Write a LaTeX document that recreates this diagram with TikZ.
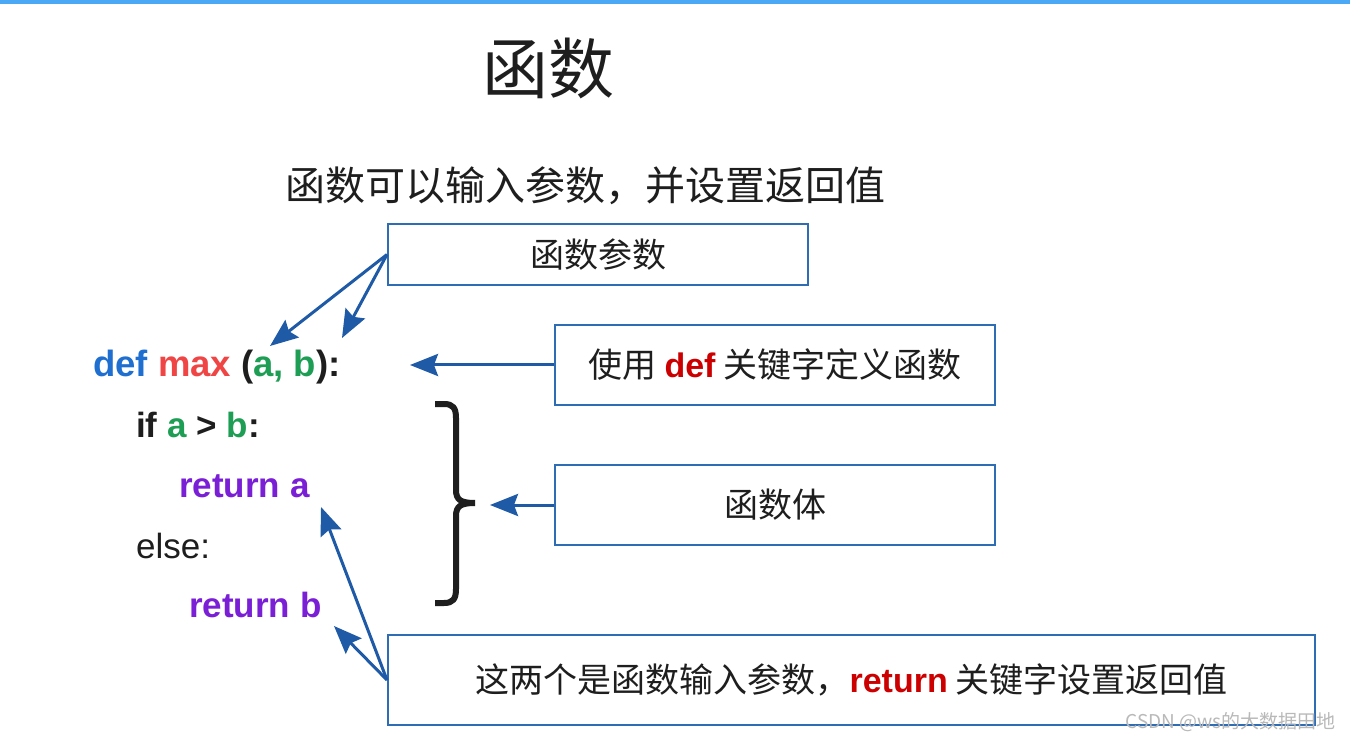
\documentclass[tikz,border=0pt]{standalone}
\usepackage{fontspec}
\setmainfont{Liberation Sans}
\newfontfamily\cjk{Noto Sans CJK SC}
\usetikzlibrary{arrows.meta}
\definecolor{topbar}{HTML}{4AA8F4}
\definecolor{boxblue}{HTML}{2E6DB4}
\definecolor{arrblue}{HTML}{1F5AA6}
\definecolor{kwblue}{HTML}{1E6FD0}
\definecolor{kwred}{HTML}{F04545}
\definecolor{kwgreen}{HTML}{1E9E55}
\definecolor{kwpurple}{HTML}{7A1FD6}
\definecolor{darkred}{HTML}{CC0000}
\definecolor{ink}{HTML}{1E1E1E}
\tikzset{
  infobox/.style={draw=boxblue, line width=2pt, inner sep=0pt, text=ink},
  codeline/.style={anchor=base west, inner sep=0pt, font=\fontsize{35}{40}\selectfont\bfseries, text=ink},
  arr/.style={draw=arrblue, line width=3pt, -{Stealth[length=28pt,width=22pt,inset=4pt]}},
}
\begin{document}
\begin{tikzpicture}[x=1pt,y=-1pt]
\useasboundingbox (0,0) rectangle (1350,743);
\fill[white] (0,0) rectangle (1350,743);
\fill[topbar] (0,0) rectangle (1350,4);

% title and subtitle
\node[inner sep=0pt, text=ink, font=\fontsize{66}{70}\selectfont\cjk] (title) at (548,68) {函数};
\node[inner sep=0pt, text=ink, font=\fontsize{40}{46}\selectfont\cjk] (subtitle) at (585,186) {函数可以输入参数，并设置返回值};

% boxes
\node[infobox, minimum width=420pt, minimum height=61pt, font=\fontsize{34}{40}\selectfont\cjk] (params) at (598,254.5) {函数参数};
\node[infobox, minimum width=440pt, minimum height=80pt, font=\fontsize{34}{40}\selectfont\cjk] (defbox) at (775,365) {使用 {\rmfamily\bfseries\color{darkred}def} 关键字定义函数};
\node[infobox, minimum width=440pt, minimum height=80pt, font=\fontsize{34}{40}\selectfont\cjk] (bodybox) at (775,505) {函数体};
\node[infobox, minimum width=927pt, minimum height=90pt, font=\fontsize{34}{40}\selectfont\cjk] (retbox) at (851.5,680) {这两个是函数输入参数，{\rmfamily\bfseries\color{darkred}return} 关键字设置返回值};

% code
\node[codeline, font=\fontsize{36.5}{40}\selectfont\bfseries] (l1) at (93,377) {\textcolor{kwblue}{def} \textcolor{kwred}{max} (\textcolor{kwgreen}{a, b}):};
\node[codeline] (l2) at (136,437) {if \textcolor{kwgreen}{a} > \textcolor{kwgreen}{b}:};
\node[codeline, text=kwpurple] (l3) at (179,497) {return a};
\node[codeline, font=\fontsize{35}{40}\selectfont] (l4) at (136,558) {else:};
\node[codeline, text=kwpurple] (l5) at (189,617) {return b};

% brace
\draw[ink, line width=6pt] (435,404) -- (444,404) .. controls (453,404) and (456,408) .. (456,418) -- (456,490) .. controls (456,500) and (461,503) .. (475,503) .. controls (461,503) and (456,506) .. (456,516) -- (456,589) .. controls (456,599) and (453,603) .. (444,603) -- (435,603);

% arrow targets
\coordinate (ta) at (270,346);
\coordinate (tb) at (342,338);
\coordinate (tdef) at (410,365);
\coordinate (tbody) at (490,505);
\coordinate (tra) at (321,507);
\coordinate (trb) at (334,626);

\draw[arr] (params.west) -- (ta);
\draw[arr] (params.west) -- (tb);
\draw[arr] (defbox.west) -- (tdef);
\draw[arr] (bodybox.west) -- (tbody);
\draw[arr] (retbox.west) -- (tra);
\draw[arr] (retbox.west) -- (trb);

% watermark
\node[inner sep=0pt, anchor=east, text=gray!55, font=\fontsize{19}{22}\selectfont\cjk] (wm) at (1336,722) {CSDN @ws的大数据田地};
\end{tikzpicture}
\end{document}
